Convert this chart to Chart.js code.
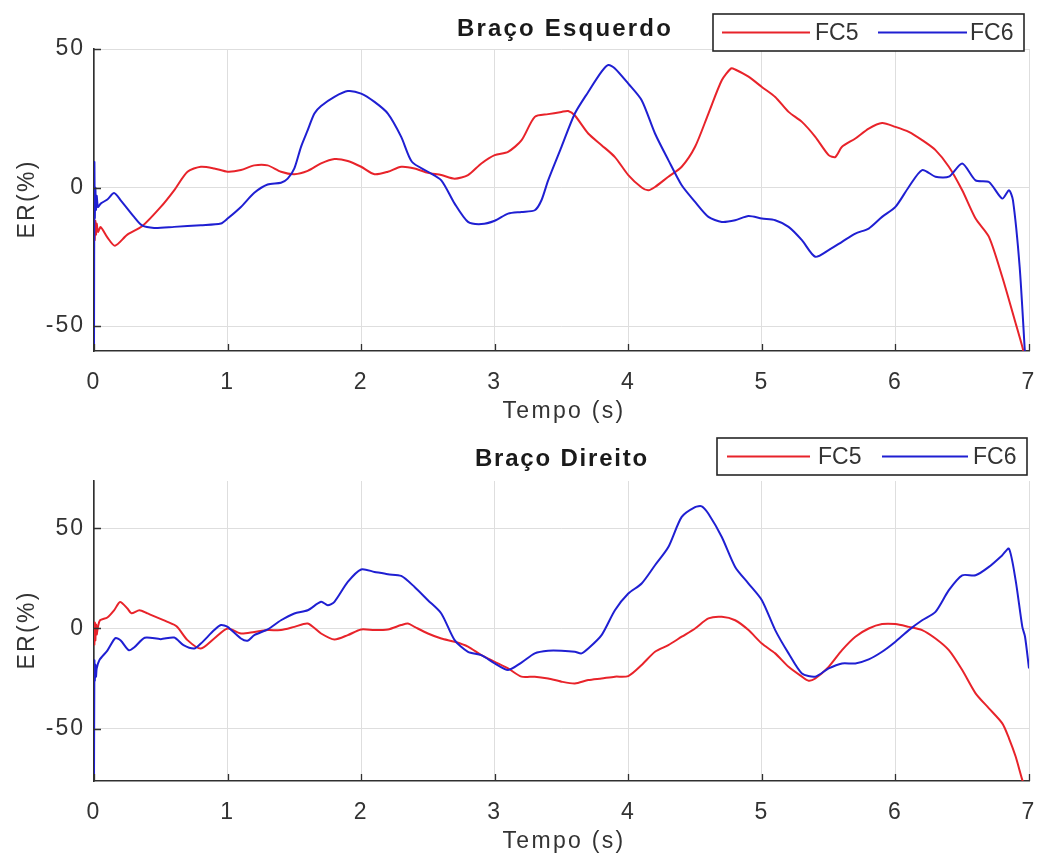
<!DOCTYPE html>
<html>
<head>
<meta charset="utf-8">
<script src="https://cdn.jsdelivr.net/npm/chart.js@4.4.1/dist/chart.umd.min.js"></script>
<style>
html,body{margin:0;padding:0;background:#ffffff;}
#wrap{position:relative;width:1040px;height:861px;overflow:hidden;background:#fff;}
canvas{position:absolute;left:0;}
</style>
</head>
<body>
<div id="wrap">
<canvas id="c1" width="1040" height="430" style="top:0px;width:1040px;height:430px"></canvas>
<canvas id="c2" width="1040" height="431" style="top:430px;width:1040px;height:431px"></canvas>
</div>
<script>
// ---------- text ----------
const titles = ['Braço Esquerdo', 'Braço Direito'];
const seriesNames = ['FC5', 'FC6'];
const xLabel = 'Tempo (s)';
const yLabel = 'ER(%)';
const xTicks = [0, 1, 2, 3, 4, 5, 6, 7];
const yTicks = [-50, 0, 50];

// ---------- Braço Esquerdo ----------
const leftFC5_t = [0,0.005,0.01,0.015,0.02,0.03,0.05,0.1,0.157,0.25,0.36,0.5,0.6,0.7,0.8,0.9,1.0,1.1,1.2,1.3,1.4,1.5,1.6,1.7,1.8,1.9,2.0,2.1,2.2,2.3,2.4,2.5,2.6,2.7,2.8,2.9,3.0,3.1,3.2,3.3,3.4,3.5,3.55,3.6,3.7,3.8,3.9,4.0,4.1,4.15,4.2,4.3,4.4,4.5,4.6,4.7,4.77,4.8,4.9,5.0,5.1,5.2,5.3,5.4,5.5,5.55,5.6,5.7,5.8,5.9,6.0,6.1,6.2,6.3,6.4,6.5,6.6,6.7,6.8,6.9,6.95,6.97];
const leftFC5_v = [-10,-19,-12,-17,-13,-16,-14.3,-18,-21,-17,-14,-7,-1,5.7,7.5,6.9,5.7,6.3,8,8,5.7,4.8,6,8.7,10.3,9.6,7.5,4.8,5.7,7.5,6.9,5.3,4.5,3.2,4.5,8.7,11.7,12.9,17,25.5,26.5,27.3,27.6,26,19.5,15.3,11,4.5,0,-1,0.2,3.9,7.5,14.7,26.7,38.7,43,42.6,40,36.3,32.7,27.3,23.7,18.3,11.7,11,14.7,17.7,21.3,23.3,21.9,20.1,17.1,13.5,7.5,-1,-11.2,-17.8,-32.3,-49,-57.5,-62];
const leftFC6_t = [0,0.003,0.006,0.01,0.015,0.02,0.03,0.05,0.1,0.15,0.2,0.3,0.36,0.45,0.6,0.8,0.95,1.0,1.1,1.2,1.3,1.4,1.45,1.5,1.55,1.6,1.65,1.7,1.8,1.9,2.0,2.1,2.2,2.3,2.38,2.5,2.6,2.7,2.8,2.9,3.0,3.1,3.2,3.3,3.35,3.4,3.5,3.6,3.7,3.8,3.85,3.9,4.0,4.1,4.2,4.3,4.4,4.5,4.6,4.7,4.8,4.9,5.0,5.1,5.2,5.3,5.4,5.5,5.6,5.7,5.8,5.9,6.0,6.1,6.2,6.3,6.4,6.5,6.6,6.7,6.8,6.85,6.88,6.93,6.97];
const leftFC6_v = [-59,9,-11,0,-8,-3,-7,-5.8,-4.3,-2,-4.6,-10.6,-13.7,-14.6,-14.2,-13.6,-13,-11.2,-7,-1.9,1.1,1.7,3.2,6.9,14.7,20.7,26.7,29.4,32.7,34.8,33.9,30.9,26.7,18.3,9.3,5.7,2.6,-5.8,-12.4,-13.2,-12,-9.4,-8.8,-8.2,-4.6,2.6,14.7,26.7,34.5,41.8,44.2,43,37.5,31.5,19.5,9.9,0.8,-5.2,-10.6,-12.4,-11.8,-10.3,-11.2,-11.8,-14.2,-19,-25,-22.6,-19.6,-16.6,-14.8,-10.6,-7,0.2,6.3,3.9,3.9,8.7,2.6,2,-4,-1,-4.6,-28.6,-60];

// ---------- Braço Direito ----------
const rightFC5_t = [0,0.003,0.006,0.01,0.015,0.02,0.03,0.045,0.1,0.15,0.195,0.25,0.28,0.34,0.4,0.55,0.62,0.7,0.8,0.9,1.0,1.1,1.2,1.3,1.4,1.5,1.6,1.7,1.8,1.9,2.0,2.1,2.2,2.3,2.35,2.4,2.5,2.6,2.7,2.8,2.9,3.0,3.1,3.2,3.3,3.4,3.5,3.6,3.7,3.8,3.9,4.0,4.1,4.2,4.3,4.4,4.5,4.6,4.7,4.8,4.9,5.0,5.1,5.2,5.3,5.35,5.4,5.5,5.6,5.7,5.8,5.9,6.0,6.1,6.2,6.3,6.4,6.5,6.6,6.7,6.8,6.85,6.9,6.95,6.97];
const rightFC5_v = [2,-8,3,-6,2,-3,1,4.1,5.5,9,13.2,10,7.6,9.1,7.5,3.3,1,-5.8,-10,-5,0,-2.5,-1.7,-0.8,-0.8,0.8,2.5,-2.5,-5.5,-3.3,-0.5,-0.8,-0.5,1.7,2.5,0.8,-2.5,-5,-6.6,-9,-13.3,-16.6,-19.9,-24,-24,-24.9,-26.5,-27.4,-25.7,-24.9,-24,-23.7,-18.2,-11.6,-8.3,-4.1,0,5,5.8,4.1,-0.8,-7.5,-12.4,-19.1,-24,-26,-24.9,-19.1,-10.8,-4.1,0,2.2,2.2,0.8,-0.8,-5,-10.8,-20.7,-32.3,-39.8,-47.3,-54.7,-63.8,-75.5,-79];
const rightFC6_t = [0,0.003,0.006,0.01,0.015,0.02,0.04,0.1,0.16,0.2,0.26,0.3,0.38,0.5,0.6,0.67,0.75,0.8,0.9,0.95,1.0,1.1,1.15,1.2,1.3,1.4,1.5,1.6,1.7,1.75,1.8,1.9,2.0,2.1,2.2,2.3,2.4,2.5,2.6,2.7,2.8,2.9,3.0,3.1,3.2,3.3,3.4,3.5,3.6,3.65,3.7,3.8,3.9,4.0,4.1,4.2,4.3,4.4,4.5,4.55,4.6,4.7,4.8,4.9,5.0,5.1,5.2,5.3,5.4,5.5,5.6,5.7,5.8,5.9,6.0,6.1,6.2,6.3,6.4,6.5,6.6,6.7,6.8,6.85,6.9,6.95,6.97,7.0];
const rightFC6_v = [-76,-16,-26,-18,-24,-20,-15.8,-11,-4.8,-6,-10.8,-9.5,-4.6,-5.3,-4.5,-8.3,-10,-7.5,-0.8,1.7,0.8,-5,-6.1,-3.3,-0.5,4.1,7.5,9.1,13.3,11.6,13.3,23.2,29.4,28.2,27,26.2,20.7,14.1,7.5,-5.8,-11.6,-13.3,-17.4,-20.7,-17,-12.4,-11.1,-11.1,-11.6,-12.4,-10,-3.3,9.1,17.4,22.4,31.5,40.6,55.6,60.5,60.9,57.2,45.6,30.7,22.4,14.1,-0.8,-12.4,-22.4,-24,-19.9,-17.4,-17.4,-15.4,-11.6,-6.6,-0.8,4.1,8.3,19.1,26.5,26.5,30.7,36.5,39.8,24,0.8,-4,-19.9];

// ---------- styling ----------
const FONT = '"Liberation Sans", Arial, Helvetica, sans-serif';
const RED = '#e8232a';
const BLUE = '#1f1fd2';
const TEXT = '#333333';
const AXIS = '#303030';
const GRID = '#dedede';

Chart.defaults.font.family = FONT;
Chart.defaults.font.size = 23;
Chart.defaults.color = TEXT;

function zip(t, v) { return t.map((x, i) => ({ x: x, y: v[i] })); }

const decor = {
  id: 'decor',
  beforeDraw(chart) {
    chart.ctx.letterSpacing = '2px';
  },
  afterDraw(chart, args, o) {
    const ctx = chart.ctx;
    const a = chart.chartArea;
    const xs = chart.scales.x, ys = chart.scales.y;
    ctx.save();
    // inward tick marks
    ctx.strokeStyle = AXIS;
    ctx.lineWidth = 1.3;
    ctx.beginPath();
    xTicks.forEach(v => {
      const px = Math.round(xs.getPixelForValue(v)) + 0.5;
      ctx.moveTo(px, a.bottom); ctx.lineTo(px, a.bottom - 7);
    });
    yTicks.forEach(v => {
      const py = Math.round(ys.getPixelForValue(v)) + 0.5;
      ctx.moveTo(a.left, py); ctx.lineTo(a.left + 7, py);
    });
    ctx.stroke();

    // title
    ctx.fillStyle = '#1a1a1a';
    ctx.font = 'bold 24px ' + FONT;
    ctx.letterSpacing = o.titleSpacing;
    ctx.textAlign = 'center';
    ctx.textBaseline = 'alphabetic';
    ctx.fillText(o.title, o.titleX + 1, o.titleY);

    // axis titles
    ctx.fillStyle = TEXT;
    ctx.font = '23px ' + FONT;
    ctx.letterSpacing = '2.3px';
    ctx.fillText(xLabel, o.xLabelX + 1, o.xLabelY);
    ctx.save();
    ctx.translate(o.yLabelX, (a.top + a.bottom) / 2);
    ctx.rotate(-Math.PI / 2);
    ctx.textBaseline = 'middle';
    ctx.fillText(yLabel, 1, 0);
    ctx.restore();

    // legend
    const L = o.legend;
    ctx.fillStyle = '#ffffff';
    ctx.fillRect(L.x, L.y, L.w, L.h);
    ctx.strokeStyle = '#262626';
    ctx.lineWidth = 1.6;
    ctx.strokeRect(L.x, L.y, L.w, L.h);
    const ly = L.y + L.h / 2;
    ctx.lineWidth = 2;
    ctx.strokeStyle = RED;
    ctx.beginPath(); ctx.moveTo(L.l1[0], ly); ctx.lineTo(L.l1[1], ly); ctx.stroke();
    ctx.strokeStyle = BLUE;
    ctx.beginPath(); ctx.moveTo(L.l2[0], ly); ctx.lineTo(L.l2[1], ly); ctx.stroke();
    ctx.fillStyle = TEXT;
    ctx.font = '23px ' + FONT;
    ctx.letterSpacing = '0px';
    ctx.textAlign = 'left';
    ctx.textBaseline = 'middle';
    ctx.fillText(seriesNames[0], L.t1, ly + 1);
    ctx.fillText(seriesNames[1], L.t2, ly + 1);
    ctx.restore();
  }
};

function makeChart(id, cfg) {
  return new Chart(document.getElementById(id), {
    type: 'line',
    data: {
      datasets: [
        { label: seriesNames[0], data: zip(cfg.t5, cfg.v5), borderColor: RED, backgroundColor: RED,
          borderWidth: 2, pointRadius: 0, tension: 0.25, fill: false, order: 2 },
        { label: seriesNames[1], data: zip(cfg.t6, cfg.v6), borderColor: BLUE, backgroundColor: BLUE,
          borderWidth: 2, pointRadius: 0, tension: 0.25, fill: false, order: 1 }
      ]
    },
    options: {
      responsive: false,
      animation: false,
      devicePixelRatio: 1,
      events: [],
      layout: { padding: { left: 0, right: 11, top: cfg.top, bottom: 0 } },
      plugins: {
        legend: { display: false },
        title: { display: false },
        tooltip: { enabled: false },
        decor: cfg.decor
      },
      scales: {
        x: {
          type: 'linear', min: 0, max: 7,
          ticks: { stepSize: 1, padding: 18, maxRotation: 0, color: TEXT, font: { size: 23 } },
          afterBuildTicks(s) { s.ticks = xTicks.map(v => ({ value: v })); },
          grid: { color: GRID, lineWidth: 1, drawTicks: false },
          border: { color: AXIS, width: 1.6 },
          afterFit(s) { s.height = cfg.xh; s.paddingLeft = 0; s.paddingRight = 0; }
        },
        y: {
          type: 'linear', min: cfg.ymin, max: cfg.ymax,
          ticks: { padding: 9, color: TEXT, font: { size: 23 } },
          afterBuildTicks(s) { s.ticks = yTicks.map(v => ({ value: v })); },
          grid: { color: GRID, lineWidth: 1, drawTicks: false },
          border: { color: AXIS, width: 1.6 },
          afterFit(s) { s.width = 94; s.paddingTop = 0; s.paddingBottom = 0; }
        }
      }
    },
    plugins: [decor]
  });
}

makeChart('c1', {
  t5: leftFC5_t, v5: leftFC5_v, t6: leftFC6_t, v6: leftFC6_v,
  ymin: -59, ymax: 50, top: 49, xh: 79,
  decor: {
    title: titles[0], titleX: 564, titleY: 36, titleSpacing: '2.2px',
    xLabelX: 563, xLabelY: 418, yLabelX: 28,
    legend: { x: 713, y: 14, w: 311, h: 37, l1: [722, 810], l2: [878, 967], t1: 815, t2: 970 }
  }
});

makeChart('c2', {
  t5: rightFC5_t, v5: rightFC5_v, t6: rightFC6_t, v6: rightFC6_v,
  ymin: -76, ymax: 73.5, top: 51, xh: 80,
  decor: {
    title: titles[1], titleX: 561, titleY: 36, titleSpacing: '1.8px',
    xLabelX: 563, xLabelY: 418, yLabelX: 28,
    legend: { x: 717, y: 8, w: 310, h: 37, l1: [727, 810], l2: [882, 968], t1: 818, t2: 973 }
  }
});
</script>
</body>
</html>
